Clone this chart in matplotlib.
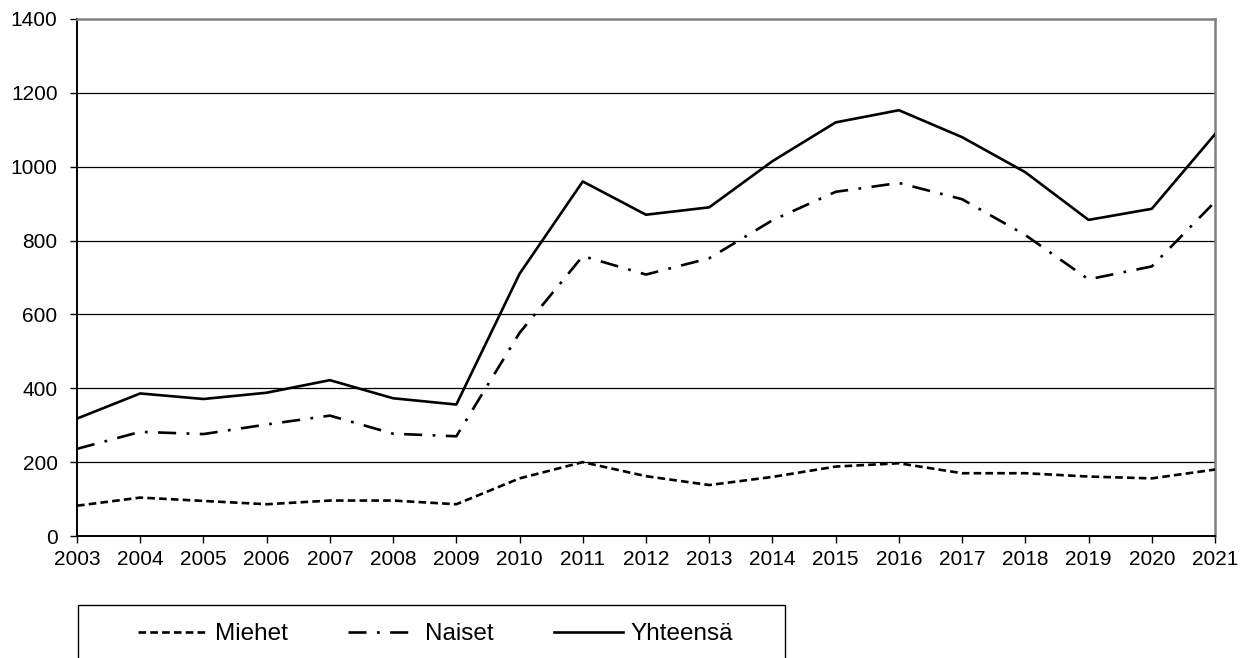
import matplotlib.pyplot as plt
from matplotlib.patches import Rectangle

plt.rcParams['font.family'] = ['Liberation Sans', 'DejaVu Sans']
plt.rcParams['lines.scale_dashes'] = False

years = list(range(2003, 2022))
miehet = [82, 104, 95, 86, 96, 96, 86, 156, 200, 162, 138, 160, 188, 197, 170, 170, 161, 156, 180]
naiset = [236, 282, 276, 302, 326, 277, 270, 550, 758, 708, 752, 855, 932, 956, 912, 815, 695, 730, 905]
yhteensa = [318, 386, 371, 388, 422, 373, 356, 710, 960, 870, 890, 1015, 1120, 1153, 1080, 985, 856, 886, 1088]
yticks = [0, 200, 400, 600, 800, 1000, 1200, 1400]

fig = plt.figure(figsize=(12.53, 6.58), dpi=100)
ax = fig.add_axes([77/1253, 1 - 536/658, (1215 - 77)/1253, (536 - 19)/658])

for y in yticks[1:-1]:
	ax.axhline(y, color='black', lw=0.9, zorder=1)

l1, = ax.plot(years, miehet, color='black', lw=1.9, dashes=(5.5, 3.0), zorder=3)
l2, = ax.plot(years, naiset, color='black', lw=1.9, dashes=(13, 7.5, 2, 7.5), zorder=3)
l3, = ax.plot(years, yhteensa, color='black', lw=1.9, zorder=3)

ax.set_xlim(2003, 2021)
ax.set_ylim(0, 1400)
ax.set_xticks(years)
ax.set_yticks(yticks)
ax.tick_params(labelsize=15, length=5, width=1, direction='out')
ax.tick_params(axis='y', pad=9)
ax.tick_params(axis='x', pad=5)

ax.spines['left'].set_color('black')
ax.spines['left'].set_linewidth(1.4)
ax.spines['bottom'].set_color('black')
ax.spines['bottom'].set_linewidth(1.4)
ax.spines['top'].set_color('#808080')
ax.spines['top'].set_linewidth(1.8)
ax.spines['right'].set_color('#808080')
ax.spines['right'].set_linewidth(1.8)

# legend box runs off the bottom edge like the original
box = Rectangle((78/1253, -0.05), (785 - 78)/1253, 0.05 + (658 - 605)/658,
	transform=fig.transFigure, fill=False, edgecolor='black', lw=1.0, clip_on=False)
fig.patches.append(box)

leg = fig.legend([l1, l2, l3], ['Miehet', 'Naiset', 'Yhteensä'], loc='center left',
	bbox_to_anchor=(138/1253, 1 - 634/658), ncol=3, frameon=False, fontsize=17.5,
	handlelength=2.85, handletextpad=0.3, columnspacing=2.5, borderaxespad=0, borderpad=0)

fig.savefig('out.png', dpi=100)
